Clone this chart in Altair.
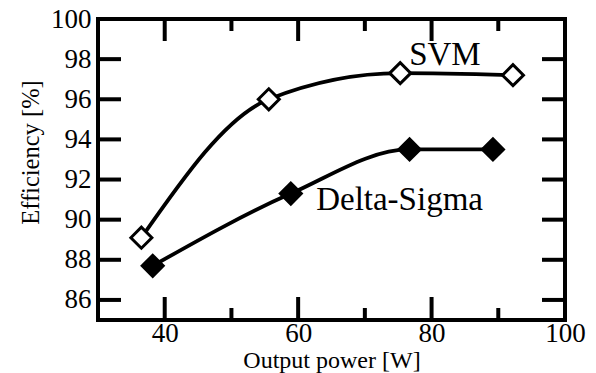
import altair as alt
import pandas as pd

# ---- data ----
svm_power = [36.5, 55.6, 75.3, 92.2]
svm_eff = [89.1, 96.0, 97.3, 97.2]
ds_power = [38.2, 58.9, 76.7, 89.2]
ds_eff = [87.7, 91.3, 93.5, 93.5]

x_label_values = [40, 60, 80, 100]
y_label_values = [86, 88, 90, 92, 94, 96, 98, 100]
x_major = [40, 60, 80]
x_minor = [50, 70, 90]
y_ticks = [86, 88, 90, 92, 94, 96, 98]

series_names = ["SVM", "Delta-Sigma"]
name_power = [82.0, 75.2]
name_eff = [97.7, 90.5]

W, H = 467, 301
FONT = "Liberation Serif"

svm = pd.DataFrame({"p": svm_power, "e": svm_eff})
ds = pd.DataFrame({"p": ds_power, "e": ds_eff})
names = pd.DataFrame({"p": name_power, "e": name_eff, "t": series_names})
xmaj = pd.DataFrame({"p": x_major})
xmin = pd.DataFrame({"p": x_minor})
yt = pd.DataFrame({"e": y_ticks})

xs = alt.Scale(domain=[30, 100], nice=False, zero=False)
ys = alt.Scale(domain=[85, 100], nice=False, zero=False)

xax = alt.Axis(values=x_label_values, title="Output power [W]", ticks=False, domain=False,
               grid=False, labelFont=FONT, labelFontSize=27, labelColor="black",
               labelPadding=0, labelFlush=False, labelOverlap=False,
               titleFont=FONT, titleFontSize=24, titleFontWeight="normal",
               titleColor="black", titlePadding=2)
yax = alt.Axis(values=y_label_values, title="Efficiency [%]", ticks=False, domain=False,
               grid=False, labelFont=FONT, labelFontSize=27, labelColor="black",
               labelPadding=7, labelFlush=False, labelOverlap=False,
               titleFont=FONT, titleFontSize=24.5, titleFontWeight="normal",
               titleColor="black", titlePadding=7, titleY=133)

X = alt.X("p:Q", scale=xs, axis=xax)
Y = alt.Y("e:Q", scale=ys, axis=yax)

def series(df, fill):
    line = alt.Chart(df).mark_line(interpolate="monotone", color="black",
                                   strokeWidth=3.8).encode(x=X, y=Y)
    pts = alt.Chart(df).mark_point(shape="diamond", size=440, filled=True, fill=fill,
                                   stroke="black", strokeWidth=3, opacity=1).encode(x=X, y=Y)
    return line + pts

tick_style = dict(color="black", strokeWidth=4)
bottom_major = alt.Chart(xmaj).mark_rule(**tick_style).encode(
    x=X, y=alt.value(H), y2=alt.value(H - 23))
top_major = alt.Chart(xmaj).mark_rule(**tick_style).encode(
    x=X, y=alt.value(0), y2=alt.value(22))
bottom_minor = alt.Chart(xmin).mark_rule(**tick_style).encode(
    x=X, y=alt.value(H), y2=alt.value(H - 12))
top_minor = alt.Chart(xmin).mark_rule(**tick_style).encode(
    x=X, y=alt.value(0), y2=alt.value(12))
left_ticks = alt.Chart(yt).mark_rule(**tick_style).encode(
    y=Y, x=alt.value(0), x2=alt.value(23))
right_ticks = alt.Chart(yt).mark_rule(**tick_style).encode(
    y=Y, x=alt.value(W), x2=alt.value(W - 23))

texts = alt.Chart(names).mark_text(font=FONT, fontSize=33, align="center",
                                   baseline="alphabetic", color="black").encode(
    x=X, y=Y, text="t:N")

chart = alt.layer(
    bottom_major, top_major, bottom_minor, top_minor, left_ticks, right_ticks,
    series(svm, "white"), series(ds, "black"), texts
).properties(
    width=W, height=H,
    background="white",
    autosize=alt.AutoSizeParams(type="none"),
    padding={"left": 98, "top": 19, "right": 31, "bottom": 53},
).configure_view(
    stroke="black", strokeWidth=4
).configure_axis(
    labelFont=FONT, titleFont=FONT
).configure_text(font=FONT)

chart.save("out.html", embed_options={"renderer": "svg", "actions": False})
